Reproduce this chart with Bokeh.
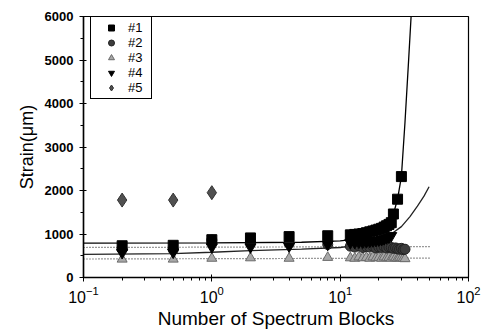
from bokeh.plotting import figure
from bokeh.models import Range1d, Legend, LegendItem, SingleIntervalTicker, LogTicker
from bokeh.embed import file_html
from bokeh.resources import INLINE

# ---- data ----
s1_n = [0.2, 0.5, 1, 2, 4, 8, 12, 13, 14, 15, 16, 17, 18, 19, 20, 21, 22, 23, 24, 25, 26, 28, 30]
s1_y = [730, 740, 870, 910, 940, 960, 980, 990, 1000, 1010, 1030, 1050, 1070, 1090, 1110, 1130,
        1160, 1190, 1220, 1260, 1460, 1800, 2320]

s2_n = [0.2, 0.5, 1, 2, 4, 8, 12, 13, 14, 15, 16, 17, 18, 19, 20, 21, 22, 23, 24, 25, 26, 27, 28,
        29, 30, 31, 32]
s2_y = [650, 640, 860, 800, 780, 760, 720, 700, 730, 690, 710, 700, 720, 680, 700, 690, 710, 680,
        700, 690, 670, 680, 660, 650, 670, 640, 650]

s3_n = [0.2, 0.5, 1, 2, 4, 8, 12, 13, 14, 15, 16, 17, 18, 19, 20, 21, 22, 23, 24, 25, 26, 27, 28,
        29, 30, 31, 32]
s3_y = [420, 420, 440, 450, 440, 460, 450, 440, 470, 450, 460, 440, 470, 450, 460, 440, 470, 450,
        460, 440, 470, 450, 440, 460, 450, 440, 430]

s4_n = [0.2, 0.5, 1, 2, 4, 8, 12, 13, 14, 15, 16, 17, 18, 19, 20, 21, 22, 23, 24, 25]
s4_y = [570, 580, 700, 700, 720, 760, 800, 800, 810, 810, 820, 830, 840, 850, 860, 870, 890, 910,
        930, 960]

s5_n = [0.2, 0.5, 1]
s5_y = [1780, 1780, 1950]

fit1_n = [0.1, 1, 5, 10, 15, 20, 23, 26, 28, 30, 32, 34, 35.7]
fit1_y = [790, 795, 810, 840, 900, 1010, 1150, 1460, 1800, 2320, 3570, 4900, 6000]

fit4_n = [0.1, 0.5, 1, 2, 5, 10, 15, 20, 25, 30, 35, 40, 45, 49.3]
fit4_y = [530, 550, 580, 620, 650, 690, 760, 870, 1000, 1170, 1400, 1640, 1870, 2085]

fit2_n = [0.1, 50]
fit2_y = [690, 710]
fit3_n = [0.1, 50]
fit3_y = [425, 445]

labels = ["#1", "#2", "#3", "#4", "#5"]

FONT = "Liberation Sans"

p = figure(x_axis_type="log", output_backend="svg", toolbar_location=None,
           frame_width=385, frame_height=261,
           min_border_left=83, min_border_right=24, min_border_top=16, min_border_bottom=55,
           x_range=Range1d(0.1, 100), y_range=Range1d(0, 6000))
p.grid.visible = False
p.outline_line_color = "black"
p.outline_line_width = 1.2
p.outline_line_alpha = 1
p.background_fill_color = "white"
p.border_fill_color = "white"

# fitted lines
p.line(fit1_n, fit1_y, line_color="black", line_width=1.3)
p.line(fit4_n, fit4_y, line_color="#222222", line_width=1.3)
p.line(fit2_n, fit2_y, line_color="#333333", line_width=1.2, line_dash="1 2")
p.line(fit3_n, fit3_y, line_color="#333333", line_width=1.2, line_dash="1 2")

# points
r3 = p.scatter(s3_n, s3_y, marker="triangle", size=10, fill_color="#a8a8a8", line_color="#6a6a6a")
r2 = p.scatter(s2_n, s2_y, marker="circle", size=10, fill_color="#3c3c3c", line_color="#222222")
r4 = p.scatter(s4_n, s4_y, marker="inverted_triangle", size=11, fill_color="black", line_color="black")
r1 = p.scatter(s1_n, s1_y, marker="square", size=10, fill_color="black", line_color="black")
r5 = p.scatter(s5_n, s5_y, marker="diamond", size=14, fill_color="#505050", line_color="#333333")

legend = Legend(items=[LegendItem(label=l, renderers=[r]) for l, r in
                       zip(labels, [r1, r2, r3, r4, r5])],
                location=(7, 178), padding=3, spacing=0, margin=0,
                glyph_width=34, glyph_height=15, label_height=15, label_width=20,
                label_standoff=0, label_text_font=FONT, label_text_font_size="13px",
                label_text_color="black",
                border_line_color="black", border_line_width=1, border_line_alpha=1,
                background_fill_color="white", background_fill_alpha=1)
p.add_layout(legend)

# axes
p.yaxis.ticker = SingleIntervalTicker(interval=1000, num_minor_ticks=2)
p.xaxis.ticker = LogTicker(num_minor_ticks=10)
for ax in (p.xaxis[0], p.yaxis[0]):
    ax.axis_line_width = 1.5
    ax.axis_line_color = "black"
    ax.major_tick_line_color = "black"
    ax.minor_tick_line_color = "black"
    ax.major_tick_in = 3
    ax.major_tick_out = 4
    ax.minor_tick_in = 0
    ax.minor_tick_out = 3
    ax.axis_label_text_font = FONT
    ax.axis_label_text_font_style = "normal"
    ax.axis_label_text_color = "black"
    ax.major_label_text_font = FONT
    ax.major_label_text_color = "black"

p.yaxis.major_label_text_font_size = "13px"
p.yaxis.major_label_text_font_style = "bold"
p.yaxis.major_label_standoff = 6
p.yaxis.axis_label = "Strain(\u03bcm)"
p.yaxis.axis_label_text_font_size = "18px"
p.yaxis.axis_label_standoff = 5

p.xaxis.major_label_text_font_size = "16px"
p.xaxis.major_label_standoff = 4
p.xaxis.axis_label = "Number of Spectrum Blocks"
p.xaxis.axis_label_text_font_size = "19px"
p.xaxis.axis_label_standoff = 2

open("out.html", "w").write(file_html(p, INLINE))
